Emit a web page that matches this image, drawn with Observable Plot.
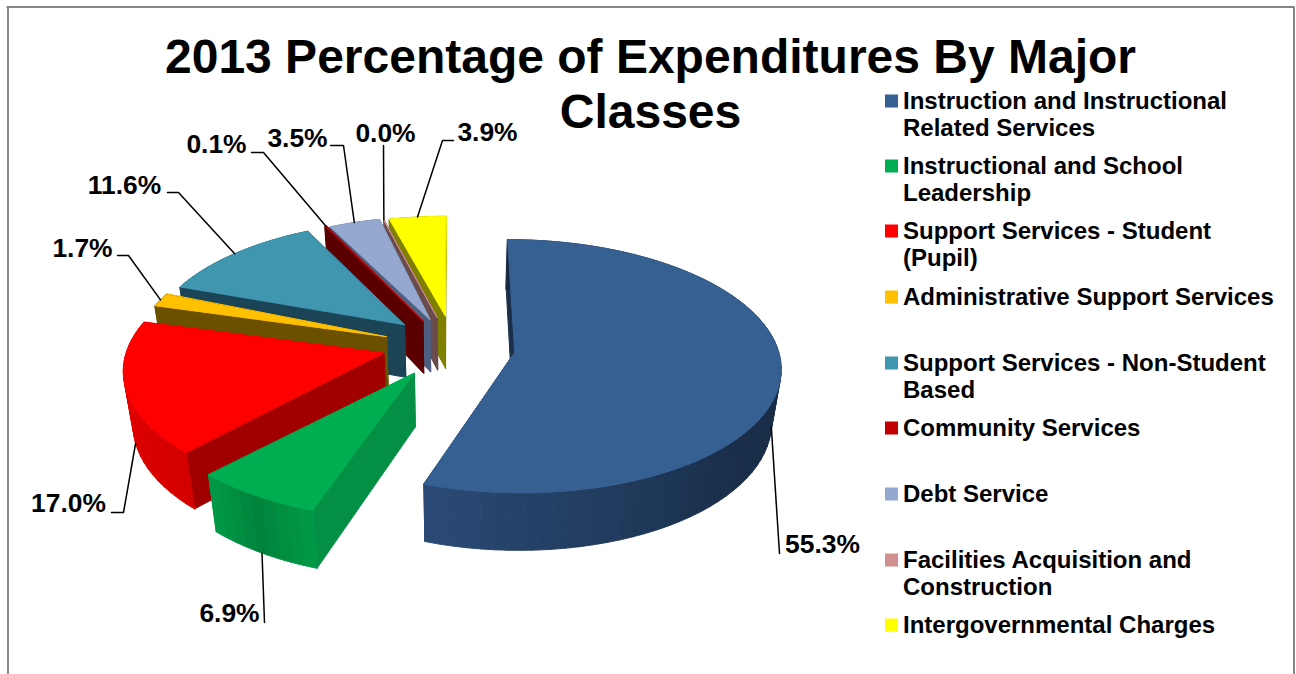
<!DOCTYPE html>
<html><head><meta charset="utf-8">
<script src="https://cdn.jsdelivr.net/npm/d3@7"></script>
<script src="https://cdn.jsdelivr.net/npm/@observablehq/plot@0.6"></script>
<style>html,body{margin:0;padding:0;background:#fff}svg{display:block}</style>
</head><body><div id="chart"></div>
<script>
// ---- data ----
const categories = [
  "Instruction and Instructional\nRelated Services",
  "Instructional and School\nLeadership",
  "Support Services - Student\n(Pupil)",
  "Administrative Support Services",
  "Support Services - Non-Student\nBased",
  "Community Services",
  "Debt Service",
  "Facilities Acquisition and\nConstruction",
  "Intergovernmental Charges"
];
const values = [55.3, 6.9, 17.0, 1.7, 11.6, 0.1, 3.5, 0.0, 3.9];
const titleLines = ["2013 Percentage of Expenditures By Major", "Classes"];

// ---- styles ----
const topColors  = ["#376092","#00ad50","#ff0000","#ffc000","#4095af","#c00000","#95a9d0","#d09090","#ffff00"];
const swatches   = ["#376092","#00ad50","#ff0000","#ffc000","#4095af","#c00000","#95a9d0","#d09090","#ffff00"];
const wallColors = ["#1b2f4a","#049044","#a00000","#6b5000","#1c4457","#5a0000","#4f5f7f","#6b4c4c","#808000"];
const rimStops = [
  ["#16293f","#16293f","#1a2f4b","#2a4a75"],
  ["#009a48","#00843b","#009a48"],
  ["#d40000","#e80000"],
  ["#6b5000","#6b5000"],
  ["#1c4457","#1c4457"],
  ["#5a0000","#5a0000"],
  ["#4f5f7f","#4f5f7f"],
  ["#6b4c4c","#6b4c4c"],
  ["#808000","#808000"]
];

// ---- layout ----
const view = {cx:452, cy:350, R:264, kR:124, depth:54, persp:0.11, sink:0.03, sinkY:0.015, explode:0.23, startDeg:0};
// small per-slice corrections for the original's stronger camera perspective
const rimShift  = [[1,-3],[-5,-2],[-2,-4],[4,-5],[3,-3],[4,-3],[2,-1],[1,0],[0,0]];
const apexShift = [[2,-3],[-6,-2],[-10,-5],[-9,-5],[-4,-7],[-3,-5],[-2,-5],[-1,-6],[0,-7]];
const legendY = [103,168,233,299,365,430,496,562,627];
const labelPos = [[822,544],[229,613],[68,503],[82,248],[124,185],[216,144],[297,138],[385,133],[487,132]];
// elbow(s) of each leader, running from the label to the slice; z=1 anchors on the lower rim
const leaderElbows = [[[779,553]],[[264,622]],[[111,512],[123,512]],[[117,255],[128,255]],[[167,192],[178,192]],[[251,152],[263,152]],[[330,145],[343,145]],[[383,145]],[[453,140],[442,140]]];
const anchorDepth = [1,1,1,0,0,0,0,0,0];

// ---- geometry from values ----
const total = d3.sum(values);
let acc = view.startDeg * Math.PI / 180;
const slices = values.map((v,i)=>{
  const a0 = acc, a1 = acc + v/total*2*Math.PI; acc = a1;
  const mid = (a0+a1)/2;
  return {i, a0, a1, mid, ex:view.explode*Math.sin(mid), ev:-view.explode*Math.cos(mid)};
});
function proj(s, a, r, z){
  const u = r*Math.sin(a) + s.ex, v = -r*Math.cos(a) + s.ev;
  const kx = 1/(1 - view.persp*v + view.sink*z);
  const ky = 1/(1 - view.persp*v + view.sinkY*z);
  const d = (r ? rimShift : apexShift)[s.i];
  return {x:view.cx + view.R*u*kx + d[0], y:view.cy + (view.kR*v + view.depth*z)*ky + d[1]};
}
const polys = [];
function addPoly(id, fill, pts){ pts.forEach(p=>polys.push({id, fill, x:p.x, y:p.y})); }
[8,7,6,5,4,3,2,1,0].forEach(i=>{
  const s = slices[i];
  [s.a1, s.a0].forEach((a,j)=>addPoly(`w${i}${j}`, wallColors[i],
    [proj(s,0,0,0),proj(s,a,1,0),proj(s,a,1,1),proj(s,0,0,1)]));
  const n = Math.max(1, Math.ceil((s.a1-s.a0)/0.05));
  const shade = d3.piecewise(d3.interpolateRgb, rimStops[i]);
  const fine = Math.max(1, Math.ceil((s.a1-s.a0)/0.01));
  for(let k=0;k<n;k++){
    const pts0 = [], pts1 = [];
    for(let q=0;q<=8;q++){
      const a = s.a0+(s.a1-s.a0)*(k+q/8)/n;
      pts0.push(proj(s,a,1,0)); pts1.unshift(proj(s,a,1,1));
    }
    addPoly(`r${i}_${k}`, shade((k+.5)/n), pts0.concat(pts1));
  }
  const top = [proj(s,0,0,0)];
  for(let k=0;k<=fine;k++) top.push(proj(s,s.a0+(s.a1-s.a0)*k/fine,1,0));
  addPoly(`t${i}`, topColors[i], top);
});
const leaders = [];
slices.forEach((s,i)=>{
  leaderElbows[i].forEach(p=>leaders.push({id:i,x:p[0],y:p[1]}));
  const e = proj(s,s.mid,1,anchorDepth[i]);
  leaders.push({id:i,x:e.x,y:e.y});
});
const labels = values.map((v,i)=>({text:v.toFixed(1)+"%",x:labelPos[i][0],y:labelPos[i][1]}));
const legend = categories.map((c,i)=>({c,y:legendY[i],fill:swatches[i]}));
const font = "Liberation Sans";

const chart = Plot.plot({
  width:1296, height:674, margin:0,
  x:{domain:[0,1296],range:[0,1296],axis:null},
  y:{domain:[0,674],range:[0,674],axis:null},
  color:{type:"identity"},
  style:{background:"#fff"},
  marks:[
    Plot.ruleX([7.5],{y1:6.5,y2:674,stroke:"#868686",strokeWidth:2}),
    Plot.ruleX([1293.5],{y1:6.5,y2:674,stroke:"#868686",strokeWidth:2}),
    Plot.ruleY([6.5],{x1:6.5,x2:1294.5,stroke:"#868686",strokeWidth:2}),
    Plot.line(polys,{x:"x",y:"y",z:"id",fill:"fill",stroke:"fill",strokeWidth:1,curve:"linear-closed"}),
    Plot.line(leaders,{x:"x",y:"y",z:"id",stroke:"#000",strokeWidth:1.5}),
    Plot.text(titleLines,{x:[650,650],y:[57,112],text:d=>d,fontFamily:font,fontWeight:"bold",fontSize:48,fill:"#000"}),
    Plot.text(labels,{x:"x",y:"y",text:"text",fontFamily:font,fontWeight:"bold",fontSize:26.4,fill:"#000"}),
    Plot.rect(legend,{x1:()=>885,x2:()=>898,y1:d=>d.y-8.5,y2:d=>d.y+4.5,fill:"fill"}),
    Plot.text(legend,{x:()=>902.5,y:d=>d.y-13.5,text:"c",textAnchor:"start",lineAnchor:"top",lineHeight:1.125,fontFamily:font,fontWeight:"bold",fontSize:24,fill:"#000"})
  ]
});
document.getElementById("chart").append(chart);
</script></body></html>
